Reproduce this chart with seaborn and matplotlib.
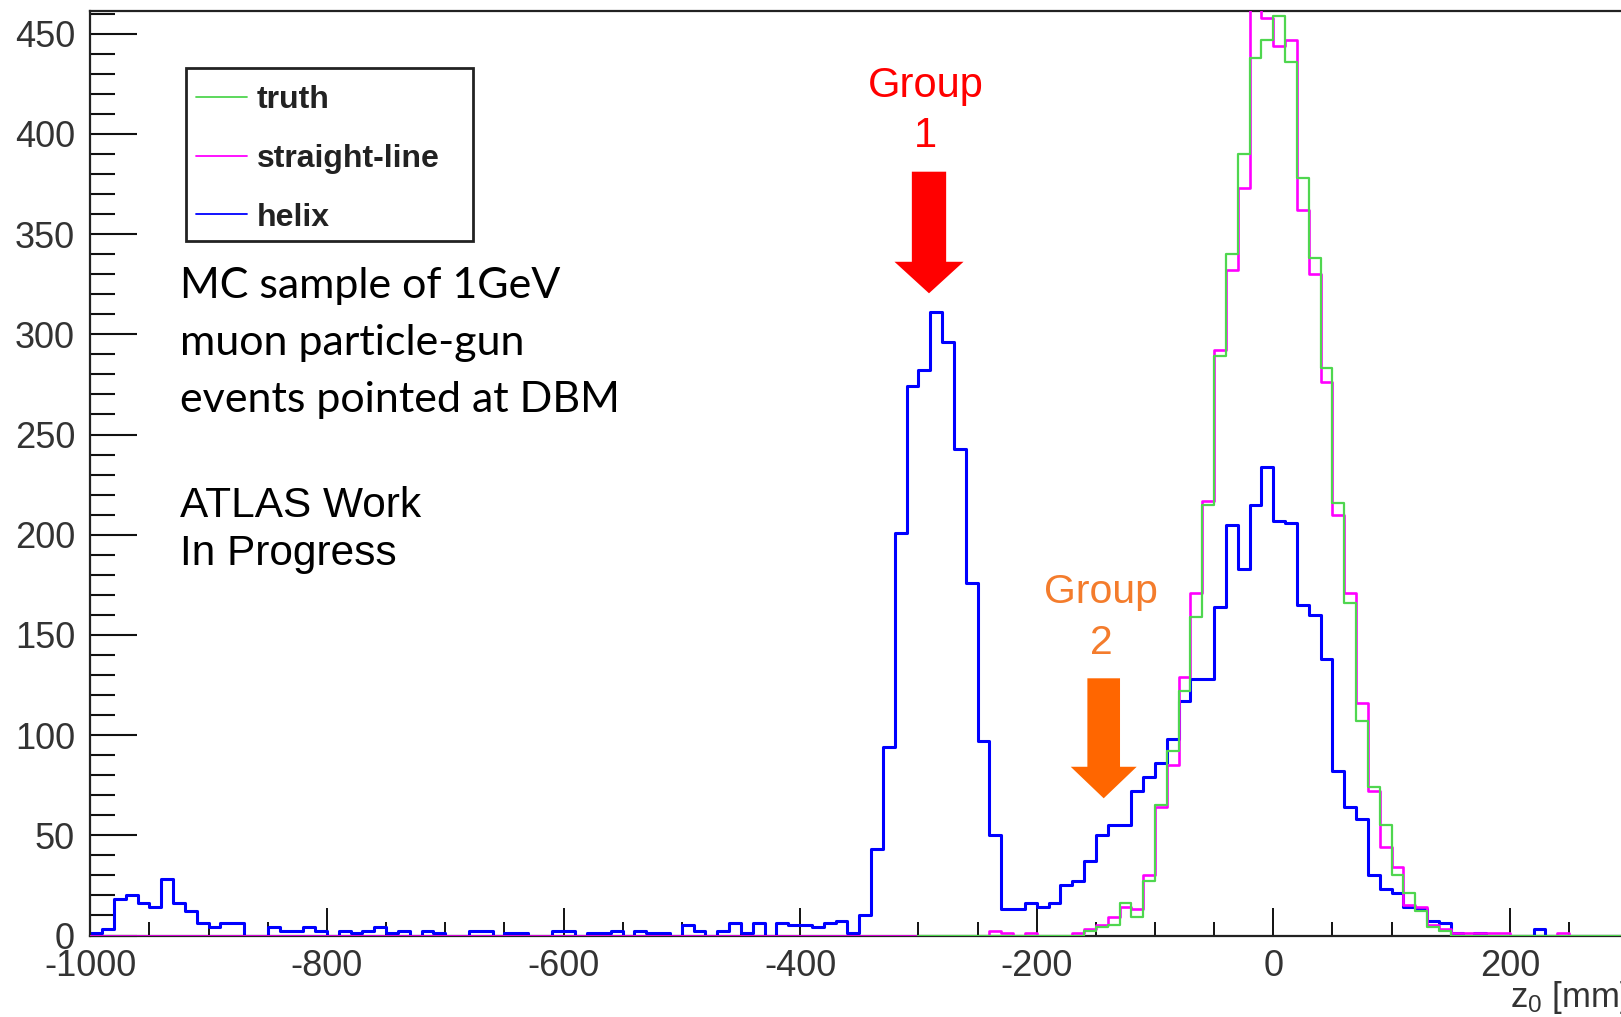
import numpy as np
import pandas as pd
import seaborn as sns
import matplotlib.pyplot as plt
from matplotlib.patches import Rectangle
from matplotlib.ticker import MultipleLocator

# z0 histograms, 10 mm bins
edges_all = list(range(-1000, 301, 10))
edges_truth = list(range(-300, 301, 10))

helix = [1, 3, 18, 20, 16, 14, 28, 16, 12, 6,
         4, 6, 6, 0, 0, 4, 2, 2, 4, 2,
         0, 2, 1, 2, 4, 1, 2, 0, 2, 1,
         0, 0, 2, 2, 0, 1, 1, 0, 0, 2,
         2, 0, 1, 1, 2, 0, 2, 1, 1, 0,
         5, 2, 0, 2, 6, 1, 6, 0, 6, 5,
         5, 4, 6, 7, 1, 10, 43, 94, 201, 274,
         282, 311, 296, 243, 176, 97, 50, 13, 13, 16,
         14, 16, 25, 27, 37, 50, 55, 55, 72, 79,
         86, 98, 117, 128, 128, 164, 205, 183, 215, 234,
         207, 206, 165, 160, 138, 82, 64, 58, 30, 23,
         21, 14, 13, 7, 6, 1, 0, 1, 0, 0,
         0, 0, 3, 0, 0, 0, 0, 0, 0, 0]

straight = [0] * 76 + [2, 1, 0, 1,
            0, 0, 0, 1, 3, 5, 9, 14, 13, 30,
            64, 85, 129, 171, 217, 292, 332, 373, 466, 458,
            444, 447, 362, 330, 276, 210, 171, 116, 72, 44,
            34, 15, 14, 5, 3, 1, 1, 1, 1, 1,
            0, 0, 0, 0, 1, 0, 0, 0, 0, 0]

truth = [0] * 14 + [2, 4, 5, 16, 9, 27,
         65, 92, 122, 159, 215, 289, 340, 390, 438, 447,
         459, 436, 378, 338, 283, 216, 166, 107, 74, 55,
         30, 21, 12, 4, 2, 0, 0, 0, 0, 0,
         0, 0, 0, 0, 0, 0, 0, 0, 0, 0]

labels = ['truth', 'straight-line', 'helix']
colors = ['#4fd64f', '#ff00ff', '#0000ff']

df_all = pd.DataFrame({'z0': np.array(edges_all[:-1]) + 5, 'helix': helix, 'straight': straight})
df_truth = pd.DataFrame({'z0': np.array(edges_truth[:-1]) + 5, 'truth': truth})

sns.set_style('ticks')
plt.rcParams['font.family'] = ['Liberation Sans', 'DejaVu Sans']
plt.rcParams['axes.unicode_minus'] = False
plt.rcParams['mathtext.default'] = 'regular'

W, H = 1621, 1017
fig = plt.figure(figsize=(W / 100, H / 100), dpi=100)
ax = fig.add_axes([90.3 / W, 1 - 935.5 / H, (1628.2 - 90.3) / W, (935.5 - 10.7) / H])

sns.histplot(data=df_all, x='z0', weights='helix', bins=edges_all, element='step',
             fill=False, color=colors[2], linewidth=2.2, label=labels[2], ax=ax, zorder=2)
sns.histplot(data=df_all, x='z0', weights='straight', bins=edges_all, element='step',
             fill=False, color=colors[1], linewidth=1.9, label=labels[1], ax=ax, zorder=3)
sns.histplot(data=df_truth, x='z0', weights='truth', bins=edges_truth, element='step',
             fill=False, color=colors[0], linewidth=1.6, label=labels[0], ax=ax, zorder=4)

ax.set_xlim(-1000, 300)
ax.set_ylim(0, 461.5)
ax.set_xlabel('')
ax.set_ylabel('')

ax.xaxis.set_major_locator(MultipleLocator(200))
ax.xaxis.set_minor_locator(MultipleLocator(50))
ax.yaxis.set_major_locator(MultipleLocator(50))
ax.yaxis.set_minor_locator(MultipleLocator(10))
ax.tick_params(axis='x', which='major', direction='in', length=20, width=1.4, pad=10,
               labelsize=26, labelcolor='#333333', color='#111111')
ax.tick_params(axis='x', which='minor', direction='in', length=10, width=1.4, color='#111111')
ax.tick_params(axis='y', which='major', direction='in', length=34, width=1.5, pad=11,
               labelsize=26, labelcolor='#333333', color='#111111')
ax.tick_params(axis='y', which='minor', direction='in', length=18, width=1.5, color='#111111')

for side in ['left', 'bottom', 'top']:
    ax.spines[side].set_color('#222222')
    ax.spines[side].set_linewidth(1.6)
ax.spines['right'].set_visible(False)

ax.text(1.0, -0.077, r'z$_{0}$ [mm]', transform=ax.transAxes, ha='right', va='baseline',
        fontsize=25, color='#333333', clip_on=False)

# legend (entries from the histogram lines, frame drawn as in the original)
handles = {l.get_label(): l for l in ax.lines}
leg = ax.legend([handles[l] for l in labels], labels, loc='upper left',
                bbox_to_anchor=(196 / W, 1 - 85 / H), bbox_transform=fig.transFigure,
                frameon=False, borderpad=0, borderaxespad=0, handlelength=1.6,
                handletextpad=0.3, labelspacing=0.9,
                prop={'family': 'Liberation Sans', 'weight': 'bold', 'size': 23})
for t in leg.get_texts():
    t.set_color('#222222')
for ln in leg.get_lines():
    ln.set_linewidth(1.3)
fig.patches.append(Rectangle((186 / W, 1 - 241 / H), 287 / W, 173 / H, transform=fig.transFigure,
                             fill=False, edgecolor='#222222', linewidth=2.0))

# annotation text
for txt, yb in zip(['MC sample of 1GeV', 'muon particle-gun', 'events pointed at DBM'],
                   [298.3, 355, 411.7]):
    fig.text(180 / W, 1 - yb / H, txt, fontsize=31, family='Lato', va='baseline', color='black')
for txt, yb in zip(['ATLAS Work', 'In Progress'], [516.7, 565]):
    fig.text(180 / W, 1 - yb / H, txt, fontsize=30.5, va='baseline', color='black')

for txt, yb in zip(['Group', '1'], [96.7, 146.7]):
    fig.text(925.5 / W, 1 - yb / H, txt, fontsize=30, ha='center', va='baseline', color='#ff0000')
for txt, yb in zip(['Group', '2'], [603.3, 654]):
    fig.text(1101 / W, 1 - yb / H, txt, fontsize=29.5, ha='center', va='baseline', color='#f47c2c')

ax.annotate('', xy=(929, H - 293.3), xytext=(929, H - 171.7),
            xycoords='figure pixels', textcoords='figure pixels',
            arrowprops=dict(arrowstyle='simple,head_length=22.7,head_width=49.7,tail_width=24.7',
                            mutation_scale=1, fc='#ff0000', ec='none', shrinkA=0, shrinkB=0))
ax.annotate('', xy=(1103.7, H - 798.3), xytext=(1103.7, H - 678.3),
            xycoords='figure pixels', textcoords='figure pixels',
            arrowprops=dict(arrowstyle='simple,head_length=22.7,head_width=47.5,tail_width=23.5',
                            mutation_scale=1, fc='#ff6600', ec='none', shrinkA=0, shrinkB=0))

fig.savefig('out.png', dpi=100)
